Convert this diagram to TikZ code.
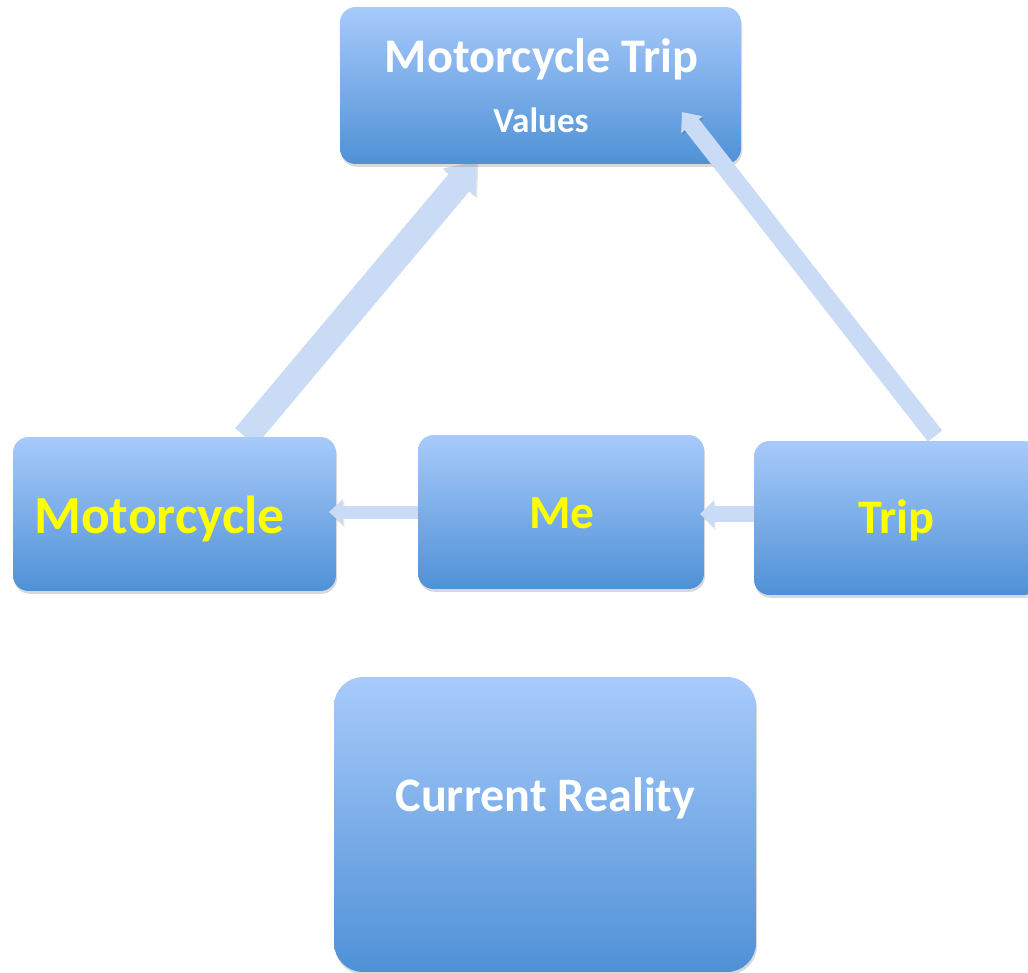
\documentclass[tikz,border=0pt]{standalone}
\usepackage{fontspec}
\setmainfont{Carlito}
\usetikzlibrary{arrows.meta,shadows,positioning,calc,backgrounds}
\definecolor{boxtop}{HTML}{A8CAFB}
\definecolor{boxbottom}{HTML}{4F91D6}
\definecolor{flowblue}{HTML}{CADBF5}
\definecolor{textyellow}{HTML}{FFFF00}

\begin{document}
\begin{tikzpicture}[
            x=0.02cm, y=-0.02cm,
            box/.style={rectangle, rounded corners=0.31cm, inner sep=0pt, outer sep=0pt,
                top color=boxtop, bottom color=boxbottom, draw=none,
                drop shadow={shadow xshift=0.6pt, shadow yshift=-1.6pt, opacity=0.3}},
            boxtext/.style={anchor=base, inner sep=0pt, text=white, font=\bfseries\fontsize{#1}{#1}\selectfont},
            flow/.style={draw=flowblue, line width=#1,
                preaction={draw=black, opacity=0.1, transform canvas={xshift=0.8pt, yshift=-1.2pt}}}
        ]
\useasboundingbox (0,0) rectangle (1028,973);

% boxes
            \node[box, minimum width=8.02cm, minimum height=3.14cm] (goal) at (540.5,85.5) {};
            \node[box, minimum width=6.46cm, minimum height=3.08cm] (motor) at (174.5,514) {};
            \node[box, minimum width=5.72cm, minimum height=3.08cm] (me) at (561,512) {};
            \node[box, minimum width=5.70cm, minimum height=3.08cm] (trip) at (896.5,518) {};
            \node[box, rounded corners=0.58cm, minimum width=8.44cm, minimum height=5.90cm] (reality) at (545,824.5) {};

% box texts
            \node[boxtext=27.5] at ($(goal.center)+(1,-12.5)$) {Motorcycle Trip};
            \node[boxtext=20] at ($(goal.center)+(0.5,47.5)$) {Values};
            \node[boxtext=30.5, text=textyellow] at ($(motor.center)+(-15,19)$) {Motorcycle};
            \node[boxtext=27, text=textyellow] at ($(me.center)+(1,16)$) {Me};
            \node[boxtext=27.5, text=textyellow] at ($(trip.center)+(0,15)$) {Trip};
            \node[boxtext=27.4] at ($(reality.center)+(0.5,-13.5)$) {Current Reality};

% arrows
            \coordinate (tripout) at ([yshift=0.08cm]trip.west);
            \begin{scope}[on background layer]
            \draw[flow=0.54cm, -{Triangle[width=0.82cm, length=0.56cm]}] ($(motor.north west)!0.72!(motor.north east)$) -- ($(goal.south west)!0.342!(goal.south east)+(0,-3)$);
            \end{scope}
            \draw[flow=0.36cm, -{Triangle[width=0.52cm, length=0.32cm]}] ($(trip.north)+(38.5,-5)$) -- ($(goal.south east)+(-59,-52)$);
            \draw[flow=0.26cm, -{Triangle[width=0.5cm, length=0.28cm]}] (me.west) -- ([xshift=-0.14cm]me.west -| motor.east);
            \draw[flow=0.32cm, -{Triangle[width=0.54cm, length=0.28cm]}] (tripout) -- ([xshift=-0.08cm]tripout -| me.east);

\end{tikzpicture}
\end{document}
